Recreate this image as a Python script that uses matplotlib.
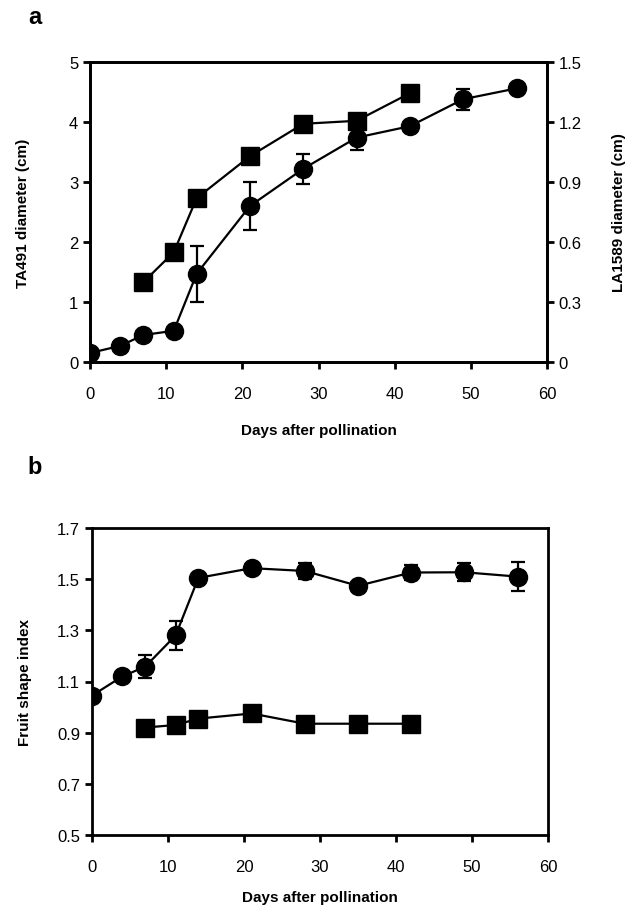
import matplotlib
matplotlib.use("Agg")
import matplotlib.pyplot as plt
import numpy as np

plt.rcParams["font.family"] = ["Liberation Sans", "DejaVu Sans"]

# panel a: fruit diameter
days_sq = [7, 11, 14, 21, 28, 35, 42]
ta491_diam = [1.33, 1.83, 2.73, 3.43, 3.97, 4.02, 4.48]
ta491_err = [0.05, 0.05, 0.05, 0.05, 0.05, 0.06, 0.05]

days_ci = [0, 4, 7, 11, 14, 21, 28, 35, 42, 49, 56]
la1589_diam = [0.045, 0.081, 0.135, 0.156, 0.441, 0.78, 0.966, 1.122, 1.179, 1.314, 1.368]
la1589_err = [0.015, 0.012, 0.015, 0.012, 0.14, 0.12, 0.075, 0.06, 0.02, 0.052, 0.02]

# panel b: fruit shape index
shape_ci = [1.045, 1.12, 1.158, 1.28, 1.505, 1.543, 1.532, 1.474, 1.526, 1.527, 1.51]
shape_ci_err = [0.01, 0.01, 0.045, 0.055, 0.015, 0.015, 0.03, 0.01, 0.03, 0.035, 0.058]
shape_sq = [0.92, 0.93, 0.955, 0.975, 0.935, 0.935, 0.935]
shape_sq_err = [0.01, 0.01, 0.01, 0.01, 0.01, 0.01, 0.01]

W, H = 629, 912
fig = plt.figure(figsize=(W / 100, H / 100), dpi=100)


def style(ax):
    for s in ax.spines.values():
        s.set_linewidth(2.0)
    ax.tick_params(axis="both", direction="out", width=2.0, length=5,
                   labelsize=12)


line_kw = dict(color="black", lw=1.6, capsize=5, elinewidth=1.6,
               capthick=1.6)

# ---- panel a
ax = fig.add_axes([90 / W, 1 - 363 / H, 457 / W, 300 / H])
ax.errorbar(days_sq, ta491_diam, yerr=ta491_err, marker="s", ms=13,
            mfc="black", mec="black", zorder=3, **line_kw)
ax.set_xlim(0, 60)
ax.set_ylim(0, 5)
ax.set_xticks(range(0, 61, 10))
ax.set_yticks(range(0, 6))
ax.set_ylabel("TA491 diameter (cm)", fontsize=11, fontweight="bold",
              labelpad=28)
ax.set_xlabel("Days after pollination", fontsize=11, fontweight="bold",
              labelpad=16)
style(ax)

ax2 = ax.twinx()
ax2.errorbar(days_ci, la1589_diam, yerr=la1589_err, marker="o", ms=13,
             mfc="black", mec="black", zorder=4, **line_kw)
ax2.set_ylim(0, 1.5)
ax2.set_yticks([0, 0.3, 0.6, 0.9, 1.2, 1.5])
ax2.set_yticklabels(["0", "0.3", "0.6", "0.9", "1.2", "1.5"])
ax2.set_ylabel("LA1589 diameter (cm)", fontsize=11, fontweight="bold",
               labelpad=22)
style(ax2)
ax.tick_params(axis="x", pad=12)
fig.text(35 / W, 1 - 18 / H, "a", fontsize=17, fontweight="bold",
         ha="center", va="center")

# ---- panel b
bx = fig.add_axes([92 / W, 1 - 836 / H, 456 / W, 307 / H])
bx.errorbar(days_ci, shape_ci, yerr=shape_ci_err, marker="o", ms=13,
            mfc="black", mec="black", zorder=4, **line_kw)
bx.errorbar(days_sq, shape_sq, yerr=shape_sq_err, marker="s", ms=13,
            mfc="black", mec="black", zorder=3, **line_kw)
bx.set_xlim(0, 60)
bx.set_ylim(0.5, 1.7)
bx.set_xticks(range(0, 61, 10))
bx.set_yticks([0.5, 0.7, 0.9, 1.1, 1.3, 1.5, 1.7])
bx.set_yticklabels(["0.5", "0.7", "0.9", "1.1", "1.3", "1.5", "1.7"])
bx.set_ylabel("Fruit shape index", fontsize=11, fontweight="bold",
              labelpad=18)
bx.set_xlabel("Days after pollination", fontsize=11, fontweight="bold",
              labelpad=12)
style(bx)
bx.tick_params(axis="x", pad=12)
fig.text(35 / W, 1 - 468 / H, "b", fontsize=17, fontweight="bold",
         ha="center", va="center")

fig.savefig("out.png", dpi=100)
